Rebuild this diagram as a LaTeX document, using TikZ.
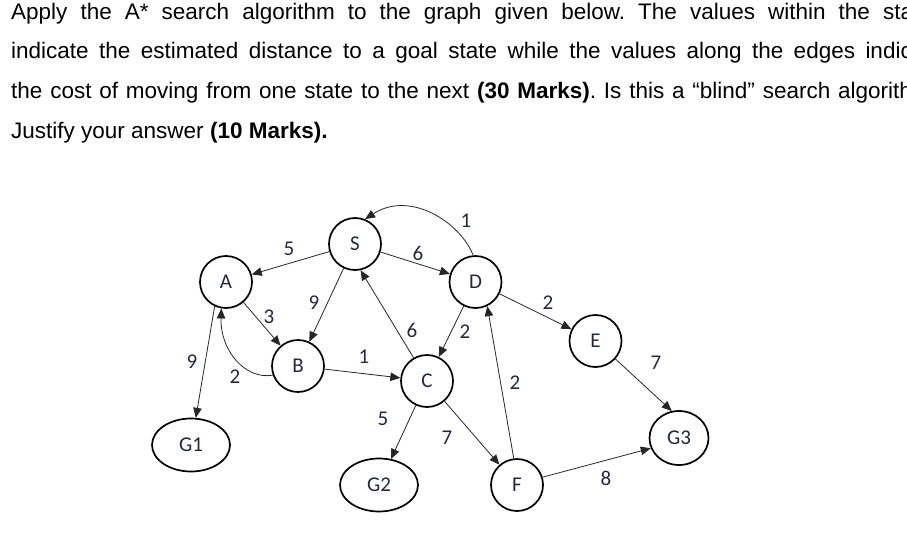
\documentclass[tikz,border=0pt]{standalone}
\usepackage{fontspec}
\usepackage{tikz}
\usetikzlibrary{arrows.meta, positioning, shapes.geometric}
\newfontfamily\headfont{Liberation Sans}
\newfontfamily\graphfont{Carlito}
\definecolor{inkblue}{RGB}{36,40,60}
\frenchspacing

\begin{document}
\begin{tikzpicture}[x=1pt, y=-1pt,
  state/.style={circle, draw, line width=1.7pt, minimum size=52pt, inner sep=0pt,
                text=inkblue, font=\graphfont\fontsize{21}{24}\selectfont},
  goal/.style={state, ellipse, minimum width=78pt, minimum height=53pt},
  edge/.style={draw=black!85, line width=0.8pt, -{Triangle[length=10pt, width=8.5pt]}},
  wt/.style={text=inkblue, inner sep=0pt, font=\graphfont\fontsize{21}{24}\selectfont},
  line/.style={anchor=base west, inner sep=0pt, font=\headfont\fontsize{22.5}{27}\selectfont}]
  \useasboundingbox (0,0) rectangle (907,535);
  \clip (0,0) rectangle (907,535);

  % question text
  \node[line] (l1) at (11,20)   {\makebox[932pt][s]{Apply the A* search algorithm to the graph given below. The values within the states}};
  \node[line] (l2) at (11,59)   {\makebox[932pt][s]{indicate the estimated distance to a goal state while the values along the edges indicate}};
  \node[line] (l3) at (11,98.5) {\makebox[932pt][s]{the cost of moving from one state to the next \textbf{(30 Marks)}. Is this a “blind” search algorithm?}};
  \node[line] (l4) at (11,138)  {Justify your answer \textbf{(10 Marks).}};

  % states
  \node[state] (S) at (355,244) {S};
  \node[state] (A) at (226,282) {A};
  \node[state] (B) at (298,366) {B};
  \node[state] (C) at (427,381) {C};
  \node[state] (D) at (475.5,282) {D};
  \node[state] (E) at (595.5,341) {E};
  \node[state] (F) at (517,485) {F};
  \node[goal] (G1) at (191,445) {G1};
  \node[goal] (G2) at (379,485) {G2};
  \node[goal, minimum width=59pt, minimum height=54pt] (G3) at (679,438) {G3};

  % edges
  \draw[edge] (S) -- (A);
  \draw[edge] (S) -- (D);
  \draw[edge] (S) -- (B);
  \draw[edge] (C.120) -- (S.-78);
  \draw[edge] (D.95) .. controls (460,222) and (410,190) .. (S.68);
  \draw[edge] (A) -- (B);
  \draw[edge] (B.200) .. controls (245,380) and (220,350) .. (A.-100);
  \draw[edge] (A.-115) -- (G1.80);
  \draw[edge] (B) -- (C);
  \draw[edge] (D) -- (C);
  \draw[edge] (C) -- (G2);
  \draw[edge] (C) -- (F);
  \draw[edge] (F.97) -- (D.-64);
  \draw[edge] (D) -- (E);
  \draw[edge] (E.-42) -- (G3.105);
  \draw[edge] (F.17) -- (G3.200);

  % costs
  \node[wt] (wSA) at (289,249) {5};
  \node[wt] (wSD) at (418,253) {6};
  \node[wt] (wDS) at (466,221) {1};
  \node[wt] (wSB) at (314,303) {9};
  \node[wt] (wAB) at (269,317) {3};
  \node[wt] (wAG) at (192,362) {9};
  \node[wt] (wBA) at (235,377) {2};
  \node[wt] (wBC) at (364,357) {1};
  \node[wt] (wCS) at (412,330) {6};
  \node[wt] (wDC) at (465,332) {2};
  \node[wt] (wDE) at (548,303) {2};
  \node[wt] (wEG) at (656,363) {7};
  \node[wt] (wFD) at (515,383) {2};
  \node[wt] (wCG) at (383,419) {5};
  \node[wt] (wCF) at (447,438) {7};
  \node[wt] (wFG) at (606,478) {8};
\end{tikzpicture}
\end{document}
